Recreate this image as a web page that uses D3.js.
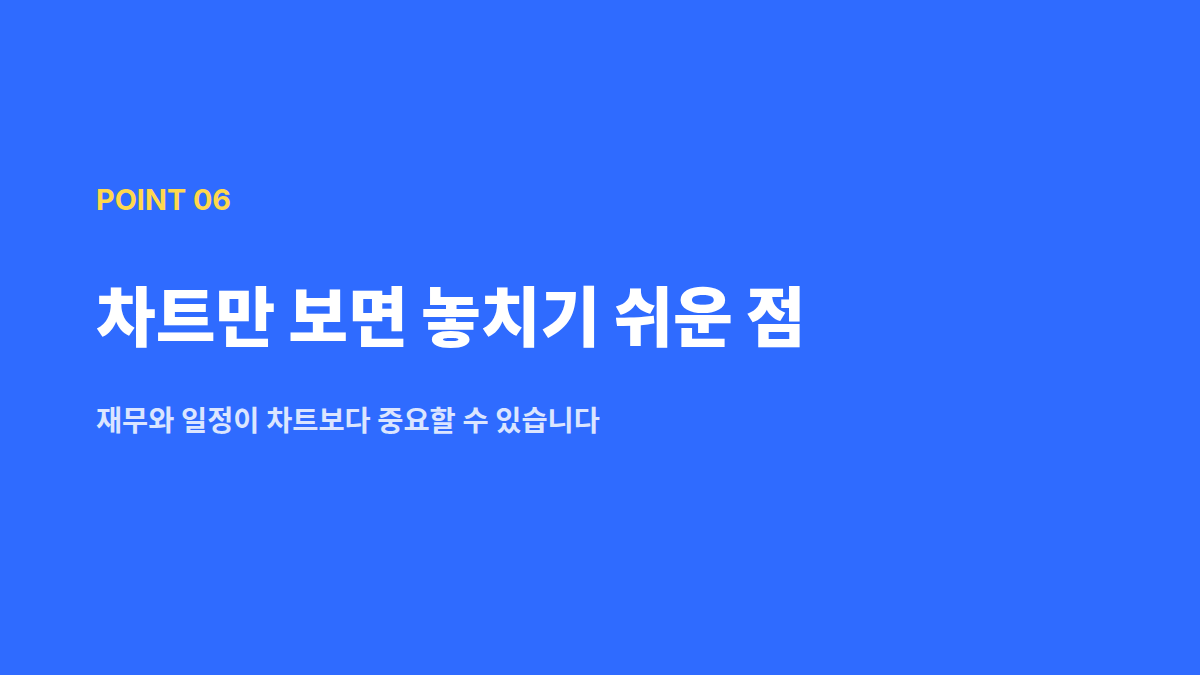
<!DOCTYPE html>
<html>
<head>
<meta charset="utf-8">
<script src="https://cdn.jsdelivr.net/npm/d3@7"></script>
<style>
  html, body { margin: 0; padding: 0; background: #2f6bff; }
  svg { display: block; }
</style>
</head>
<body>
<div id="slide"></div>
<script>
// Textes de la diapositive
const eyebrow = ["POINT 06"];
const titles = ["차트만 보면 놓치기 쉬운 점"];
const subtitles = ["재무와 일정이 차트보다 중요할 수 있습니다"];

const width = 1200;
const height = 675;
const font = "Inter, 'Noto Sans CJK KR', 'Noto Sans', sans-serif";

const svg = d3.select("#slide").append("svg")
    .attr("width", width)
    .attr("height", height);

// Fond bleu
svg.append("rect")
    .attr("width", width)
    .attr("height", height)
    .attr("fill", "#2f6bff");

const g = svg.append("g").attr("transform", "translate(96,0)");

// Étiquette jaune
g.selectAll("text.eyebrow")
    .data(eyebrow)
    .join("text")
    .attr("class", "eyebrow")
    .attr("x", 0)
    .attr("y", 210)
    .attr("font-family", font)
    .attr("font-weight", 700)
    .attr("font-size", "28.8px")
    .attr("fill", "#ffd84d")
    .text(d => d);

// Titre principal
g.selectAll("text.title")
    .data(titles)
    .join("text")
    .attr("class", "title")
    .attr("x", 0)
    .attr("y", 341)
    .attr("font-family", font)
    .attr("font-weight", 900)
    .attr("font-size", "65px")
    .attr("fill", "#ffffff")
    .text(d => d);

// Sous-titre
g.selectAll("text.subtitle")
    .data(subtitles)
    .join("text")
    .attr("class", "subtitle")
    .attr("x", 0)
    .attr("y", 431)
    .attr("font-family", font)
    .attr("font-weight", 700)
    .attr("font-size", "28.4px")
    .attr("fill", "#dbe5ff")
    .text(d => d);
</script>
</body>
</html>
